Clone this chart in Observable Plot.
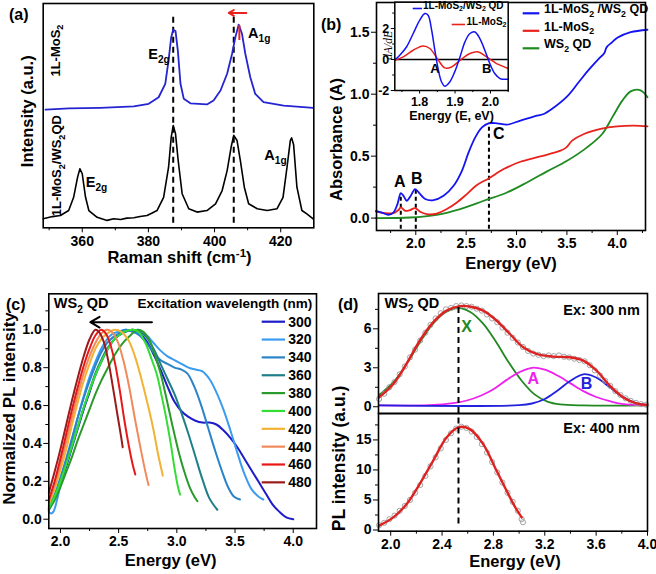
<!DOCTYPE html>
<html><head><meta charset="utf-8">
<script src="https://cdn.jsdelivr.net/npm/d3@7"></script>
<script src="https://cdn.jsdelivr.net/npm/@observablehq/plot@0.6"></script>
<style>
body{margin:0;background:#fff;}
#fig{position:relative;width:656px;height:574px;overflow:hidden;font-family:"Liberation Sans",Arial,sans-serif;font-weight:bold;}
.lbl{position:absolute;font-size:16px;line-height:16px;font-weight:bold;}
</style></head><body><div id="fig"></div>
<script>
// ---------- DATA ----------
// (a) Raman
const ramanMoS2 = [[348.9,52.7],[356,53.2],[365.5,53.5],[375.6,54.1],[380.1,55.3],[383.1,58.2],[385.1,64.2],[386.1,74.6],[386.9,85],[387.5,88.3],[388.2,87.7],[388.9,79],[389.7,64.2],[390.7,57.5],[392.7,55.5],[397.7,55],[399.7,56.8],[401.8,61.2],[403.8,68.7],[405.3,77.6],[406.3,85],[407.3,90.6],[408.3,86.5],[409.3,77.6],[410.8,67.1],[412.3,59.7],[414.8,56],[420.9,54.5],[429.8,53.5]];
const ramanHetero = [[348.2,4],[351,5],[353.4,5.5],[355.9,7.7],[357.4,13.6],[358.6,22.6],[359.3,26.3],[360,24.1],[361,13.6],[362,7.7],[364.5,4.7],[367.5,3.3],[369.5,4],[371.6,3.7],[373.5,4.3],[375.6,4.5],[377.5,5],[379.6,5.5],[381,6.5],[382.6,7.7],[384.6,13.6],[386.1,27],[386.9,40.4],[387.5,45.6],[388.2,41.9],[389,30],[390.2,15.2],[392.2,8.5],[394.7,7],[397.7,7.7],[400.3,10.7],[402.3,16.6],[403.8,25.5],[405,35.9],[405.8,41.2],[406.8,38.9],[407.8,30],[409,18.1],[410.3,10.7],[412.9,8.5],[415.9,7.7],[418.9,8.5],[420.7,13.6],[421.9,27],[422.9,38.9],[423.3,40.1],[423.9,37],[424.9,18.1],[426.4,7.7],[427.9,6.2],[429.8,4]];
const ramanPeaks = [387.5, 405.8];
const ramanShift = [{x1:409.6, x2:404.3, y:95.8}];
const ramanTick = [{x:407.5, y1:83.5, y2:90.2}];
const ramanLabels = [{x:383.2,y:77.5,t:"E_{2g}"},{x:413.5,y:86.5,t:"A_{1g}"},{x:364.3,y:20.3,t:"E_{2g}"},{x:418.4,y:32.2,t:"A_{1g}"}];
const ramanSamples = [{x:351.9,y:79,t:"1L-MoS_{2}"},{x:352.4,y:27.7,t:"1L-MoS_{2}/WS_{2}QD"}];

// (b) Absorbance
const absHetero = [[1.605,0.059],[1.662,0.045],[1.728,0.027],[1.778,0.045],[1.818,0.113],[1.851,0.199],[1.878,0.18],[1.91,0.14],[1.95,0.18],[1.993,0.234],[2.037,0.199],[2.093,0.154],[2.176,0.145],[2.276,0.18],[2.375,0.261],[2.458,0.382],[2.524,0.53],[2.59,0.652],[2.657,0.732],[2.723,0.765],[2.806,0.765],[2.905,0.754],[3.038,0.787],[3.204,0.827],[3.27,0.84],[3.35,0.88],[3.5,0.98],[3.62,1.1],[3.72,1.2],[3.82,1.29],[3.87,1.33],[3.895,1.38],[3.95,1.42],[4.0,1.455],[4.133,1.5],[4.3,1.52]];
const absMoS2 = [[1.605,0.053],[1.695,0.04],[1.778,0.04],[1.828,0.065],[1.851,0.086],[1.894,0.059],[1.943,0.065],[1.993,0.081],[2.043,0.051],[2.109,0.032],[2.209,0.037],[2.308,0.073],[2.408,0.126],[2.507,0.194],[2.607,0.267],[2.723,0.32],[2.873,0.396],[3.038,0.455],[3.237,0.498],[3.436,0.544],[3.495,0.571],[3.552,0.625],[3.669,0.679],[3.834,0.72],[4.0,0.74],[4.166,0.746],[4.3,0.74]];
const absWS2 = [[1.605,0.0],[1.943,0.005],[2.209,0.027],[2.441,0.073],[2.674,0.14],[2.905,0.207],[3.104,0.288],[3.303,0.377],[3.502,0.463],[3.70,0.571],[3.85,0.679],[3.95,0.813],[4.05,0.948],[4.133,1.023],[4.216,1.035],[4.26,1.015],[4.3,0.975]];
const absMarkers = [{x:1.851,top:0.2,t:"A",lx:1.84,ly:0.29},{x:2.0,top:0.235,t:"B",lx:2.01,ly:0.315},{x:2.726,top:0.765,t:"C",lx:2.823,ly:0.68}];
const absNames = ["1L-MoS_{2} /WS_{2} QD","1L-MoS_{2}","WS_{2} QD"];
// (b) inset derivative
const dHetero = [[1.731,0],[1.744,0.28],[1.763,0.81],[1.782,1.68],[1.8,2.53],[1.815,2.97],[1.824,2.86],[1.834,1.89],[1.843,0.6],[1.853,-0.69],[1.862,-1.45],[1.871,-1.72],[1.885,-1.45],[1.899,-0.8],[1.914,0.17],[1.928,1.14],[1.942,1.68],[1.956,1.78],[1.97,1.35],[1.984,0.6],[1.998,-0.26],[2.012,-0.9],[2.027,-1.23],[2.036,-1.27],[2.05,-1.27]];
const dMoS2 = [[1.731,-0.05],[1.754,0.17],[1.782,0.6],[1.81,0.88],[1.829,0.71],[1.853,-0.05],[1.871,-0.54],[1.89,-0.48],[1.914,-0.05],[1.942,0.39],[1.966,0.49],[1.989,0.17],[2.017,-0.26],[2.05,-0.58]];
const dLabels = [{x:1.843,y:-0.58,t:"A"},{x:1.989,y:-0.58,t:"B"}];
const dNames = ["1L-MoS_{2}/WS_{2} QD","1L-MoS_{2}"];

// (c) PL vs excitation
const wavelengths = [300,320,340,360,380,400,420,440,460,480];
const pl300 = [[1.9,0.05],[1.95,0.11],[2.0,0.19],[2.05,0.28],[2.1,0.38],[2.15,0.48],[2.2,0.58],[2.25,0.67],[2.3,0.76],[2.35,0.83],[2.4,0.89],[2.45,0.94],[2.5,0.97],[2.56,0.99],[2.62,1.0],[2.68,0.98],[2.74,0.94],[2.8,0.87],[2.86,0.79],[2.92,0.7],[2.98,0.62],[3.04,0.57],[3.1,0.54],[3.16,0.52],[3.22,0.51],[3.28,0.51],[3.34,0.5],[3.4,0.47],[3.46,0.43],[3.52,0.38],[3.58,0.32],[3.64,0.26],[3.7,0.2],[3.76,0.14],[3.82,0.08],[3.88,0.04],[3.94,0.01],[4.0,0.0]];
const pl320 = [[1.9,0.04],[1.92,0.03],[1.94,0.04],[1.97,0.1],[2.0,0.18],[2.05,0.3],[2.1,0.42],[2.15,0.54],[2.2,0.65],[2.25,0.75],[2.3,0.83],[2.35,0.9],[2.4,0.95],[2.45,0.98],[2.5,0.99],[2.56,1.0],[2.62,0.99],[2.68,0.98],[2.74,0.97],[2.8,0.93],[2.86,0.89],[2.92,0.86],[2.98,0.84],[3.04,0.82],[3.1,0.8],[3.16,0.79],[3.22,0.78],[3.28,0.74],[3.34,0.67],[3.4,0.58],[3.46,0.47],[3.52,0.35],[3.58,0.24],[3.64,0.16],[3.7,0.12],[3.743,0.104]];
const pl340 = [[1.9,0.07],[1.95,0.13],[2.0,0.22],[2.05,0.32],[2.1,0.43],[2.15,0.54],[2.2,0.64],[2.25,0.73],[2.3,0.81],[2.35,0.88],[2.4,0.93],[2.45,0.96],[2.5,0.98],[2.56,1.0],[2.62,0.99],[2.68,0.97],[2.74,0.93],[2.8,0.88],[2.86,0.84],[2.92,0.82],[2.98,0.8],[3.04,0.79],[3.09,0.77],[3.15,0.7],[3.21,0.6],[3.27,0.48],[3.33,0.36],[3.39,0.25],[3.44,0.17],[3.49,0.12],[3.543,0.104]];
const pl360 = [[1.9,0.06],[1.95,0.12],[2.0,0.2],[2.05,0.29],[2.1,0.39],[2.15,0.49],[2.2,0.59],[2.25,0.68],[2.3,0.77],[2.35,0.84],[2.4,0.9],[2.45,0.94],[2.5,0.97],[2.56,0.99],[2.62,1.0],[2.68,0.99],[2.74,0.96],[2.8,0.9],[2.86,0.82],[2.92,0.74],[2.98,0.66],[3.04,0.56],[3.1,0.45],[3.16,0.33],[3.22,0.21],[3.28,0.11],[3.348,0.05]];
const pl380 = [[1.9,0.05],[1.95,0.1],[2.0,0.17],[2.05,0.25],[2.1,0.33],[2.15,0.42],[2.2,0.5],[2.25,0.58],[2.3,0.66],[2.35,0.73],[2.4,0.79],[2.45,0.85],[2.5,0.9],[2.55,0.94],[2.6,0.97],[2.66,1.0],[2.71,0.99],[2.76,0.95],[2.81,0.87],[2.86,0.77],[2.91,0.64],[2.96,0.5],[3.01,0.37],[3.06,0.26],[3.11,0.17],[3.15,0.12],[3.177,0.095]];
const pl400 = [[1.9,0.06],[1.95,0.12],[2.0,0.2],[2.05,0.29],[2.1,0.39],[2.15,0.49],[2.2,0.59],[2.25,0.68],[2.3,0.76],[2.35,0.83],[2.4,0.89],[2.45,0.94],[2.5,0.97],[2.55,0.99],[2.62,1.0],[2.67,0.99],[2.73,0.93],[2.78,0.85],[2.83,0.76],[2.87,0.65],[2.91,0.53],[2.95,0.39],[2.98,0.27],[3.01,0.17],[3.028,0.13]];
const pl420 = [[1.9,0.08],[1.95,0.16],[2.0,0.26],[2.05,0.37],[2.1,0.5],[2.15,0.62],[2.2,0.73],[2.25,0.82],[2.3,0.9],[2.35,0.95],[2.4,0.98],[2.47,1.0],[2.52,0.99],[2.58,0.95],[2.64,0.86],[2.7,0.73],[2.76,0.58],[2.8,0.47],[2.84,0.34],[2.88,0.23]];
const pl440 = [[1.9,0.09],[1.95,0.18],[2.0,0.29],[2.05,0.41],[2.1,0.54],[2.15,0.66],[2.2,0.77],[2.25,0.86],[2.3,0.93],[2.35,0.98],[2.4,1.0],[2.44,0.99],[2.49,0.94],[2.54,0.84],[2.59,0.7],[2.64,0.53],[2.69,0.37],[2.73,0.25],[2.757,0.18]];
const pl460 = [[1.9,0.1],[1.95,0.2],[2.0,0.32],[2.05,0.45],[2.1,0.58],[2.15,0.7],[2.2,0.81],[2.25,0.9],[2.3,0.97],[2.35,1.0],[2.39,0.98],[2.43,0.92],[2.47,0.82],[2.51,0.68],[2.55,0.52],[2.59,0.38],[2.62,0.29],[2.643,0.236]];
const pl480 = [[1.9,0.14],[1.95,0.25],[2.0,0.37],[2.05,0.5],[2.1,0.63],[2.15,0.75],[2.2,0.86],[2.25,0.95],[2.3,1.0],[2.33,0.99],[2.37,0.94],[2.41,0.84],[2.45,0.7],[2.49,0.55],[2.52,0.44],[2.535,0.38]];
const plSeries = [pl300,pl320,pl340,pl360,pl380,pl400,pl420,pl440,pl460,pl480];
const plShift = [{x1:2.786, x2:2.257, y:1.04}];

// (d) PL fits
const fit300 = [[1.91,0.72],[2.02,1.75],[2.123,3.3],[2.227,5.1],[2.33,6.5],[2.435,7.4],[2.538,7.75],[2.616,7.72],[2.72,7.4],[2.824,6.64],[2.928,5.6],[3.032,4.58],[3.135,4.07],[3.266,3.86],[3.395,3.81],[3.5,3.55],[3.603,2.78],[3.706,1.62],[3.811,0.72],[3.914,0.26],[3.992,0.13]];
const peakX = [[1.91,0.9],[2.03,2.0],[2.13,3.4],[2.23,5.0],[2.33,6.4],[2.43,7.3],[2.53,7.6],[2.62,7.3],[2.72,6.4],[2.82,5.0],[2.92,3.4],[3.02,2.0],[3.12,0.95],[3.22,0.4],[3.32,0.18],[3.5,0.1],[4.0,0.1]];
const peakA = [[1.91,0.1],[2.3,0.12],[2.5,0.3],[2.6,0.5],[2.7,0.85],[2.8,1.35],[2.9,2.05],[3.0,2.65],[3.1,3.0],[3.2,2.85],[3.3,2.4],[3.4,1.8],[3.5,1.2],[3.6,0.75],[3.7,0.45],[3.8,0.22],[4.0,0.1]];
const peakB = [[1.91,0.1],[3.0,0.12],[3.1,0.25],[3.2,0.6],[3.3,1.25],[3.4,2.0],[3.5,2.5],[3.6,2.25],[3.7,1.55],[3.8,0.8],[3.9,0.32],[4.0,0.15]];
const data300 = [[1.91,0.6],[1.95,1.0],[1.99,1.5],[2.03,1.9],[2.07,2.5],[2.11,3.1],[2.15,3.8],[2.19,4.4],[2.23,5.1],[2.27,5.7],[2.31,6.3],[2.35,6.8],[2.39,7.2],[2.43,7.5],[2.47,7.6],[2.51,7.75],[2.55,7.8],[2.59,7.75],[2.63,7.7],[2.67,7.55],[2.71,7.4],[2.75,7.1],[2.79,6.8],[2.83,6.5],[2.87,6.1],[2.91,5.7],[2.95,5.3],[2.99,4.95],[3.03,4.6],[3.07,4.3],[3.11,4.1],[3.15,4.0],[3.19,3.9],[3.23,3.95],[3.27,3.9],[3.31,3.95],[3.35,3.85],[3.39,3.8],[3.43,3.7],[3.47,3.6],[3.51,3.5],[3.55,3.2],[3.59,2.8],[3.63,2.4],[3.67,2.0],[3.71,1.6],[3.75,1.2],[3.79,0.9],[3.83,0.65],[3.87,0.45],[3.91,0.3],[3.95,0.2],[3.99,0.15]];
const fit400 = [[1.91,0.72],[2.02,2.1],[2.123,4.3],[2.227,7.7],[2.33,11.5],[2.435,15.4],[2.526,17.1],[2.616,16.8],[2.72,14.3],[2.824,9.9],[2.902,6.55],[2.967,3.9],[3.02,2.1]];
const data400 = [[1.91,0.8],[1.95,1.2],[1.99,1.8],[2.03,2.4],[2.07,3.2],[2.11,4.0],[2.15,5.0],[2.19,6.2],[2.23,7.5],[2.27,9.0],[2.31,10.6],[2.35,12.1],[2.39,13.6],[2.43,15.0],[2.47,16.1],[2.51,16.9],[2.55,17.2],[2.59,17.0],[2.63,16.4],[2.67,15.5],[2.71,14.3],[2.75,12.9],[2.79,11.3],[2.83,9.6],[2.87,7.9],[2.91,6.2],[2.95,4.7],[2.99,3.2],[3.02,1.8],[3.03,1.3]];
const peakPos = [2.528];
const peakNames = [{x:2.59,y:6.12,t:"X"},{x:3.11,y:2.16,t:"A"},{x:3.525,y:1.75,t:"B"}];

// ---------- STYLE ----------
const FONT = "'Liberation Sans', Arial, sans-serif";
const base = {fontFamily: FONT, fontSize: "14px", fontWeight: "bold", background: "transparent", overflow: "visible", color: "black"};
const blueA = "#2424d2", red = "#e8221c", blueB = "#1414f0", greenB = "#1f8a1f";
const plColors = ["#1c1cc8","#3a9cf0","#2a84c8","#1f7f88","#2a9a2a","#33dd33","#f2b233","#f08a5a","#e81818","#9b1b1b"];
const dGreen = "#228822", dMag = "#ee22ee", dBlue = "#2222dd", dRed = "#dd2222";
const px = d => d[0], py = d => d[1];

const fig = document.getElementById("fig");
function place(el, left, top){ el.style.position="absolute"; el.style.left=left+"px"; el.style.top=top+"px"; fig.appendChild(el); return el; }
function axX(major, minor, fmt, fs=14, size=5){
  return [Plot.axisX({ticks: major, tickSize: size, tickPadding: 3, tickFormat: fmt, fontSize: fs, label: null}),
          Plot.axisX({ticks: minor, tickSize: size*0.6, tickFormat: () => "", label: null})];
}
function axY(major, minor, fmt, fs=14, size=5){
  return [Plot.axisY({ticks: major, tickSize: size, tickPadding: 2, tickFormat: fmt, fontSize: fs, label: null}),
          Plot.axisY({ticks: minor, tickSize: size*0.6, tickFormat: () => "", label: null})];
}
function title(t, anchor, dx, dy, fs=16.5, rotate=0, extra={}){
  return Plot.text([t], {text: d => d, frameAnchor: anchor, dx, dy, fontSize: fs, rotate, textAnchor: "middle", lineAnchor: "middle", ...extra});
}
const f1 = d3.format(".1f");

// ---------- (a) ----------
const pa = Plot.plot({
  width: 330, height: 290, marginLeft: 42.7, marginRight: 16.7, marginTop: 3, marginBottom: 62.7,
  x: {domain: [348.2, 430]}, y: {domain: [0, 100], axis: null}, style: base,
  marks: [
    Plot.ruleX(ramanPeaks, {x: d => d, y1: 2, y2: 94, strokeDasharray: "6,4", strokeWidth: 2}),
    Plot.line(ramanMoS2, {x: px, y: py, stroke: blueA, strokeWidth: 1.8}),
    Plot.line(ramanHetero, {x: px, y: py, stroke: "black", strokeWidth: 1.6}),
    Plot.arrow(ramanShift, {x1: "x1", x2: "x2", y1: "y", y2: "y", stroke: red, strokeWidth: 2, headLength: 7}),
    Plot.ruleX(ramanTick, {x: "x", y1: "y1", y2: "y2", stroke: red, strokeWidth: 2}),
    Plot.text(ramanLabels, {x: "x", y: "y", text: "t", fontSize: 14.5}),
    Plot.text(ramanSamples, {x: "x", y: "y", text: "t", rotate: -90, fontSize: 13}),
    ...axX([360,380,400,420], [350,370,390,410], d => d),
    Plot.frame({strokeWidth: 1.6}),
    title("Raman shift (cm^{-1})", "bottom", 1, 29.7),
    title("Intensity (a.u.)", "left", -15, -4.4, 16.5, -90)
  ]
});
place(pa, 0, 0);

// ---------- (b) ----------
const pb = Plot.plot({
  width: 326, height: 290, marginLeft: 46, marginRight: 11, marginTop: 2, marginBottom: 60,
  x: {domain: [1.61, 4.28]}, y: {domain: [-0.1, 1.74]}, style: base,
  marks: [
    Plot.ruleX(absMarkers, {x: "x", y1: -0.09, y2: "top", strokeDasharray: "4,3", strokeWidth: 2}),
    Plot.line(absWS2, {x: px, y: py, stroke: greenB, strokeWidth: 1.8, curve: "catmull-rom"}),
    Plot.line(absMoS2, {x: px, y: py, stroke: red, strokeWidth: 1.8, curve: "catmull-rom"}),
    Plot.line(absHetero, {x: px, y: py, stroke: blueB, strokeWidth: 1.8, curve: "catmull-rom"}),
    Plot.text(absMarkers, {x: "lx", y: "ly", text: "t", fontSize: 16}),
    ...axX([2,2.5,3,3.5,4], [1.75,2.25,2.75,3.25,3.75,4.25], f1),
    ...axY([0,0.5,1,1.5], [0.25,0.75,1.25], f1),
    Plot.frame({strokeWidth: 1.6}),
    title("Energy (eV)", "bottom", 0, 33),
    title("Absorbance (A)", "left", -40, 23, 16.5, -90)
  ]
});
place(pb, 330, 0);
function legendRow(svg, label, color, x0, x1, tx, y, fs, sw){
  const g = d3.select(svg).append("g").attr("font-size", fs).attr("font-weight", "bold").attr("font-family", FONT).attr("text-anchor", "start");
  g.append("line").attr("x1", x0).attr("x2", x1).attr("y1", y).attr("y2", y).attr("stroke", color).attr("stroke-width", sw);
  g.append("text").attr("x", tx).attr("y", y).attr("dy", "0.35em").attr("fill", "black").text(label);
}
const bColors = [blueB, red, greenB];
absNames.forEach((n, i) => legendRow(pb, n, bColors[i], 192.7, 209.3, 214, 13.3 + i*17.5, 12.5, 2.2));

// inset
const pin = Plot.plot({
  width: 200, height: 130, marginLeft: 64.3, marginRight: 22.3, marginTop: 1.7, marginBottom: 40,
  x: {domain: [1.73, 2.05]}, y: {domain: [-2, 3.7]}, style: base,
  marks: [
    Plot.frame({fill: "white", stroke: "none"}),
    Plot.ruleY([0], {stroke: "black", strokeWidth: 1.3}),
    Plot.line(dMoS2, {x: px, y: py, stroke: red, strokeWidth: 1.5, curve: "catmull-rom"}),
    Plot.line(dHetero, {x: px, y: py, stroke: blueB, strokeWidth: 1.5, curve: "catmull-rom"}),
    Plot.text(dLabels, {x: "x", y: "y", text: "t", fontSize: 13}),
    ...axX([1.8,1.9,2.0], [1.75,1.85,1.95,2.05], f1, 12.5, 3.5),
    ...axY([-2,0,2], [-1,1,3], d => String(d), 12.5, 3.5),
    Plot.frame({strokeWidth: 1.5}),
    title("Energy (E, eV)", "bottom", 0, 25, 12.5),
    title("dA/dE", "left", -6.3, -1, 11.5, -90, {fontFamily: "'Liberation Serif', 'DejaVu Serif', serif", fontStyle: "italic", fontWeight: "normal"})
  ]
});
place(pin, 330, 0);
legendRow(pin, dNames[0], blueB, 82.7, 92, 93, 8.5, 10, 1.6);
legendRow(pin, dNames[1], red, 121.7, 135, 136.5, 24.5, 10, 1.6);

// ---------- (c) ----------
const plMarks = plSeries.map((s, i) => Plot.line(s, {x: px, y: py, stroke: plColors[i], strokeWidth: 2, curve: "catmull-rom"}));
const pc = Plot.plot({
  width: 330, height: 284, marginLeft: 48.3, marginRight: 14, marginTop: 3.3, marginBottom: 46,
  x: {domain: [1.9, 4.2]}, y: {domain: [-0.049, 1.19]}, style: base,
  marks: [
    ...plMarks,
    Plot.arrow(plShift, {x1: "x1", x2: "x2", y1: "y", y2: "y", stroke: "black", strokeWidth: 2, headLength: 8}),
    ...axX([2,2.5,3,3.5,4], [2.25,2.75,3.25,3.75], f1),
    ...axY([0,0.2,0.4,0.6,0.8,1.0], [0.1,0.3,0.5,0.7,0.9,1.1], f1),
    Plot.frame({strokeWidth: 1.6}),
    Plot.text(["WS_{2} QD"], {text: d => d, frameAnchor: "top-left", dx: 5, dy: 10, fontSize: 14.5, textAnchor: "start", lineAnchor: "middle"}),
    Plot.text(["Excitation wavelength (nm)"], {text: d => d, frameAnchor: "top-right", dx: -4.3, dy: 10, fontSize: 13.5, textAnchor: "end", lineAnchor: "middle"}),
    title("Energy (eV)", "bottom", -12, 32),
    title("Normalized PL intensity", "left", -39.3, -2.7, 17, -90)
  ]
});
place(pc, 0, 290);
wavelengths.forEach((w, i) => legendRow(pc, String(w), plColors[i], 261.7, 285, 288.3, 31.7 + i*17.85, 14, 2.2));

// ---------- (d) ----------
const pdt = Plot.plot({
  width: 326, height: 123, marginLeft: 48, marginRight: 9, marginTop: 3, marginBottom: 0,
  x: {domain: [1.905, 4.0], axis: null}, y: {domain: [-0.52, 8.72]}, style: base,
  marks: [
    Plot.line(peakX, {x: px, y: py, stroke: dGreen, strokeWidth: 1.8, curve: "catmull-rom"}),
    Plot.line(peakA, {x: px, y: py, stroke: dMag, strokeWidth: 1.8, curve: "catmull-rom"}),
    Plot.line(peakB, {x: px, y: py, stroke: dBlue, strokeWidth: 1.8, curve: "catmull-rom"}),
    Plot.dot(data300, {x: px, y: py, r: 2.6, stroke: "#999", strokeWidth: 0.9, fill: "none"}),
    Plot.line(fit300, {x: px, y: py, stroke: dRed, strokeWidth: 2.4, curve: "catmull-rom"}),
    Plot.ruleX(peakPos, {x: d => d, y1: -0.52, y2: 7.7, strokeDasharray: "6,4", strokeWidth: 2}),
    Plot.text(peakNames, {x: "x", y: "y", text: "t", fontSize: 16, fill: (d, i) => [dGreen, dMag, dBlue][i]}),
    ...axY([0,3,6], [1.5,4.5,7.5], d => String(d)),
    Plot.frame({strokeWidth: 1.6}),
    Plot.text(["WS_{2} QD"], {text: d => d, frameAnchor: "top-left", dx: 6, dy: 10, fontSize: 14.5, textAnchor: "start", lineAnchor: "middle"}),
    Plot.text(["Ex: 300 nm"], {text: d => d, frameAnchor: "top-right", dx: -7.7, dy: 17, fontSize: 14.5, textAnchor: "end", lineAnchor: "middle"})
  ]
});
place(pdt, 330, 290);
const pdb = Plot.plot({
  width: 326, height: 161, marginLeft: 48, marginRight: 9, marginTop: 0, marginBottom: 43.3,
  x: {domain: [1.905, 4.0]}, y: {domain: [-0.2, 19.4]}, style: base,
  marks: [
    Plot.dot(data400, {x: px, y: py, r: 2.6, stroke: "#999", strokeWidth: 0.9, fill: "none"}),
    Plot.line(fit400, {x: px, y: py, stroke: dRed, strokeWidth: 2.4, curve: "catmull-rom"}),
    Plot.ruleX(peakPos, {x: d => d, y1: 1.0, y2: 19.4, strokeDasharray: "6,4", strokeWidth: 2}),
    ...axX([2.0,2.4,2.8,3.2,3.6,4.0], [2.2,2.6,3.0,3.4,3.8], f1),
    ...axY([0,5,10,15], [2.5,7.5,12.5,17.5], d => String(d)),
    Plot.frame({strokeWidth: 1.6}),
    Plot.text(["Ex: 400 nm"], {text: d => d, frameAnchor: "top-right", dx: -7.7, dy: 15.3, fontSize: 14.5, textAnchor: "end", lineAnchor: "middle"}),
    title("Energy (eV)", "bottom", 2, 31),
    title("PL intensity (a.u.)", "left", -38.7, -13.9, 17.5, -90)
  ]
});
place(pdb, 330, 413);

// panel letters
[["(a)", 9, 7], ["(b)", 321, 17], ["(c)", 6, 297], ["(d)", 338, 297]].forEach(([t, x, y]) => {
  const d = document.createElement("div"); d.className = "lbl"; d.textContent = t; place(d, x, y);
});

// subscripts / superscripts
function richify(root){
  root.querySelectorAll("text").forEach(t => {
    if (t.children.length) return;
    const s = t.textContent;
    if (!/[_^]\{/.test(s)) return;
    const fs = parseFloat(getComputedStyle(t).fontSize) || 14;
    t.textContent = "";
    let shift = 0;
    s.split(/([_^]\{[^}]*\})/).forEach(p => {
      if (!p) return;
      const m = p.match(/^([_^])\{([^}]*)\}$/);
      const ts = document.createElementNS("http://www.w3.org/2000/svg", "tspan");
      if (m) {
        const off = m[1] === "_" ? 0.28*fs : -0.38*fs;
        ts.setAttribute("dy", off - shift); shift = off;
        ts.setAttribute("font-size", 0.7*fs);
        ts.textContent = m[2];
      } else {
        ts.setAttribute("dy", -shift); shift = 0;
        ts.textContent = p;
      }
      t.appendChild(ts);
    });
  });
}
richify(fig);
</script></body></html>
